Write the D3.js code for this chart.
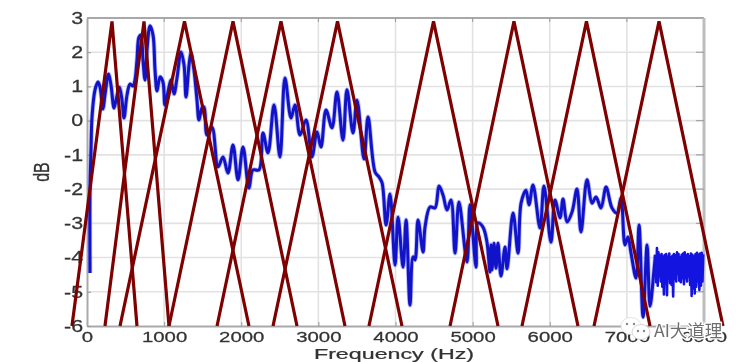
<!DOCTYPE html>
<html><head><meta charset="utf-8">
<script src="https://cdn.jsdelivr.net/npm/d3@7"></script>
<style>
html,body{margin:0;padding:0;background:#fff}
svg{display:block;filter:blur(0.6px)}
text{font-family:"Liberation Sans",Arial,sans-serif;fill:#333}
</style></head><body><div id="chart"></div>
<script>
const xTickValues=[0,1000,2000,3000,4000,5000,6000,7000,8000];
const yTickValues=[-6,-5,-4,-3,-2,-1,0,1,2,3];
const xAxisTitle="Frequency (Hz)";
const yAxisTitle="dB";
const watermarkText="AI大道理";

const responseHz=[39,39,52,65,104,143,169,207,233,279,311,350,376,421,454,480,519,558,597,622,648,674,700,726,752,778,817,856,882,908,947,985,1011,1050,1089,1128,1167,1219,1258,1284,1323,1348,1387,1426,1452,1491,1517,1556,1621,1699,1763,1828,1893,1958,2023,2100,2152,2230,2282,2347,2425,2502,2567,2645,2697,2762,2840,2917,2982,3034,3099,3177,3241,3319,3371,3449,3501,3592,3644,3735,3787,3826,3878,3929,3994,4033,4098,4137,4188,4227,4253,4292,4357,4383,4448,4512,4564,4616,4668,4720,4772,4823,4927,4966,5044,5070,5134,5186,5225,5238,5251,5277,5303,5329,5368,5420,5446,5524,5589,5628,5692,5731,5783,5874,5925,6016,6068,6133,6172,6224,6289,6353,6405,6483,6548,6600,6665,6730,6807,6872,6924,6976,7015,7054,7119,7158,7210,7262,7300,7352];
const responseDb=[-4.45,-2.03,-0.86,0.11,0.90,1.13,0.98,0.34,0.75,1.36,1.04,0.37,0.60,0.98,0.60,0.08,0.75,1.07,1.01,1.19,1.77,2.44,2.50,1.77,1.19,2.06,2.77,2.50,1.48,0.87,1.28,1.13,0.46,0.84,1.19,0.78,1.25,2.01,1.63,0.69,1.63,1.98,1.48,0.60,0.02,0.37,0.40,-0.42,-0.19,-1.35,-1.06,-1.53,-0.71,-1.73,-0.77,-1.97,-1.44,-1.44,-0.36,-0.94,0.46,-1.06,1.25,0.08,0.46,-0.42,0.02,-1.06,-0.33,-0.77,0.31,-0.21,0.84,-0.57,0.90,-0.36,0.60,-1.12,0.11,-1.50,-1.65,-1.82,-3.05,-2.14,-4.22,-2.82,-4.28,-2.90,-5.39,-3.98,-4.07,-2.90,-3.84,-3.11,-2.52,-2.55,-1.91,-2.17,-2.61,-2.32,-3.87,-2.38,-4.13,-2.46,-4.28,-2.99,-3.11,-3.55,-4.42,-3.63,-4.36,-3.58,-4.31,-3.58,-4.54,-3.69,-4.33,-2.70,-3.87,-2.41,-2.03,-2.46,-1.88,-3.14,-1.91,-3.55,-2.32,-2.84,-2.29,-2.96,-2.67,-2.00,-3.25,-1.73,-2.41,-2.23,-2.55,-1.94,-2.55,-2.70,-2.26,-3.63,-3.40,-3.87,-4.60,-3.05,-5.74,-3.63,-5.42,-4.36];
const noisyHz=[7370,7380,7390,7400,7410,7420,7430,7440,7450,7460,7470,7480,7490,7500,7510,7520,7530,7540,7550,7560,7570,7580,7590,7600,7610,7620,7630,7640,7650,7660,7670,7680,7690,7700,7710,7720,7730,7740,7750,7760,7770,7780,7790,7800,7810,7820,7830,7840,7850,7860,7870,7880,7890,7900,7910,7920,7930,7940,7950,7960,7970,7980,7990];
const noisyDb=[-3.92,-4.72,-3.72,-4.82,-3.85,-4.55,-3.95,-4.70,-3.90,-4.85,-3.98,-5.08,-3.93,-4.75,-3.90,-5.10,-3.98,-4.60,-3.88,-4.75,-4.00,-4.80,-3.95,-5.14,-3.90,-4.62,-3.94,-4.70,-3.85,-4.48,-3.90,-4.68,-4.00,-4.72,-3.92,-4.60,-3.88,-4.78,-3.85,-4.60,-3.94,-4.70,-3.90,-4.55,-3.96,-4.80,-3.88,-5.12,-3.92,-4.90,-3.98,-5.05,-3.90,-4.85,-3.86,-4.70,-3.92,-4.95,-3.88,-4.82,-3.86,-4.70,-3.90];

const filterLeftHz=[-195,233,428,1063,1686,2412,3656,4707,5640,6574];
const filterPeakHz=[324,739,1264,1893,2515,3248,4493,5536,6476,7417];
const filterRightHz=[648,1063,2100,2723,3345,4084,5329,6366,7300,8246];
const filterTopDb=2.9;
const filterBaseDb=-6;

const W=747,H=362;
const x=d3.scaleLinear().domain([0,8000]).range([87,704]);
const y=d3.scaleLinear().domain([-6,3]).range([326,18]);
const svg=d3.select("#chart").append("svg").attr("width",W).attr("height",H);
const gray="#a9a9a9";

// grid
svg.append("g").selectAll("line").data(xTickValues.slice(1,-1)).join("line")
  .attr("x1",d=>x(d)).attr("x2",d=>x(d)).attr("y1",y(3)).attr("y2",y(-6))
  .attr("stroke","#e2e2e2").attr("stroke-width",1.6);
svg.append("g").selectAll("line").data(yTickValues.slice(1,-1)).join("line")
  .attr("y1",d=>y(d)).attr("y2",d=>y(d)).attr("x1",x(0)).attr("x2",x(8000))
  .attr("stroke","#e2e2e2").attr("stroke-width",1.6);

// axes
const xAxis=svg.append("g").attr("transform",`translate(0,${y(-6)})`)
  .call(d3.axisBottom(x).tickValues(xTickValues).tickFormat(d3.format("d")).tickSizeInner(-4).tickSizeOuter(0).tickPadding(5));
xAxis.selectAll("text").attr("font-size",15).attr("transform","scale(1.36,1)");
const yAxis=svg.append("g").attr("transform",`translate(${x(0)},0)`)
  .call(d3.axisLeft(y).tickValues(yTickValues).tickFormat(d=>d<0?"-"+Math.abs(d):String(d)).tickSizeInner(-4).tickSizeOuter(0).tickPadding(3));
yAxis.selectAll("text").attr("font-size",16.5).attr("transform","scale(1.3,1)");
[xAxis,yAxis].forEach(a=>{
  a.selectAll("text").style("fill","#333").attr("stroke","#333").attr("stroke-width",.25);
  a.selectAll(".tick line").attr("stroke","#999").attr("stroke-width",1);
  a.select(".domain").attr("stroke",gray).attr("stroke-width",2);
});
svg.append("line").attr("x1",x(0)).attr("x2",x(8000)).attr("y1",y(3)).attr("y2",y(3)).attr("stroke",gray).attr("stroke-width",2);
svg.append("line").attr("x1",x(8000)).attr("x2",x(8000)).attr("y1",y(3)).attr("y2",y(-6)).attr("stroke","#bdbdbd").attr("stroke-width",3);
yTickValues.slice(1,-1).forEach(d=>svg.append("line").attr("x1",x(8000)-8).attr("x2",x(8000)).attr("y1",y(d)).attr("y2",y(d)).attr("stroke","#999"));
xTickValues.slice(1,-1).forEach(d=>svg.append("line").attr("x1",x(d)).attr("x2",x(d)).attr("y1",y(3)).attr("y2",y(3)+4).attr("stroke","#999"));

// response curve
const pts=responseHz.map((f,i)=>[f,responseDb[i]]);
const noisy=noisyHz.map((f,i)=>[f,noisyDb[i]]);
const line=d3.line().x(d=>x(d[0])).y(d=>y(d[1])).curve(d3.curveCatmullRom.alpha(0.5));
const straight=d3.line().x(d=>x(d[0])).y(d=>y(d[1]));
const all=pts.concat(noisy.slice(0,1));
svg.append("path").attr("d",line(all)).attr("fill","none").attr("stroke","#6f7df0").attr("stroke-opacity",.55).attr("stroke-width",4.6);
svg.append("path").attr("d",line(all)).attr("fill","none").attr("stroke","#1212c8").attr("stroke-width",3).attr("stroke-linejoin","round");
svg.append("path").attr("d",straight(noisy)).attr("fill","none").attr("stroke","#1414e0").attr("stroke-width",2.6).attr("stroke-linejoin","round");

// triangular filters
const tri=d3.line().x(d=>x(d[0])).y(d=>y(d[1]));
svg.append("g").selectAll("path").data(filterPeakHz).join("path")
  .attr("d",(d,i)=>tri([[filterLeftHz[i],filterBaseDb],[d,filterTopDb],[filterRightHz[i],filterBaseDb]]))
  .attr("fill","none").attr("stroke","#7f0000").attr("stroke-width",3.2).attr("stroke-linejoin","miter");

// titles
svg.append("text").attr("text-anchor","middle").attr("font-size",15.5)
  .attr("stroke","#333").attr("stroke-width",.25)
  .attr("transform",`translate(394,359) scale(1.5,1)`).text(xAxisTitle);
svg.append("text").attr("text-anchor","middle").attr("font-size",16)
  .attr("stroke","#333").attr("stroke-width",.25)
  .attr("transform",`translate(49,172) rotate(-90) scale(1,1.38)`).text(yAxisTitle);

// watermark
const wm=svg.append("g");
wm.append("ellipse").attr("cx",631).attr("cy",326).attr("rx",10).attr("ry",8.5).attr("fill","#fff").attr("stroke","#ddd").attr("stroke-width",.8);
wm.append("ellipse").attr("cx",641).attr("cy",332).attr("rx",9).attr("ry",7.5).attr("fill","#fff").attr("stroke","#ccc").attr("stroke-width",.8);
[[627,324],[634,324],[638,331],[644,331]].forEach(p=>wm.append("circle").attr("cx",p[0]).attr("cy",p[1]).attr("r",1.2).attr("fill","#888"));
wm.append("text").attr("x",654).attr("y",337).attr("font-size",17.5)
  .style("font-family",'"Noto Sans CJK SC",sans-serif').style("fill","#6e6e6e")
  .attr("stroke","#fff").attr("stroke-width",2.5).attr("paint-order","stroke").text(watermarkText);
</script></body></html>
